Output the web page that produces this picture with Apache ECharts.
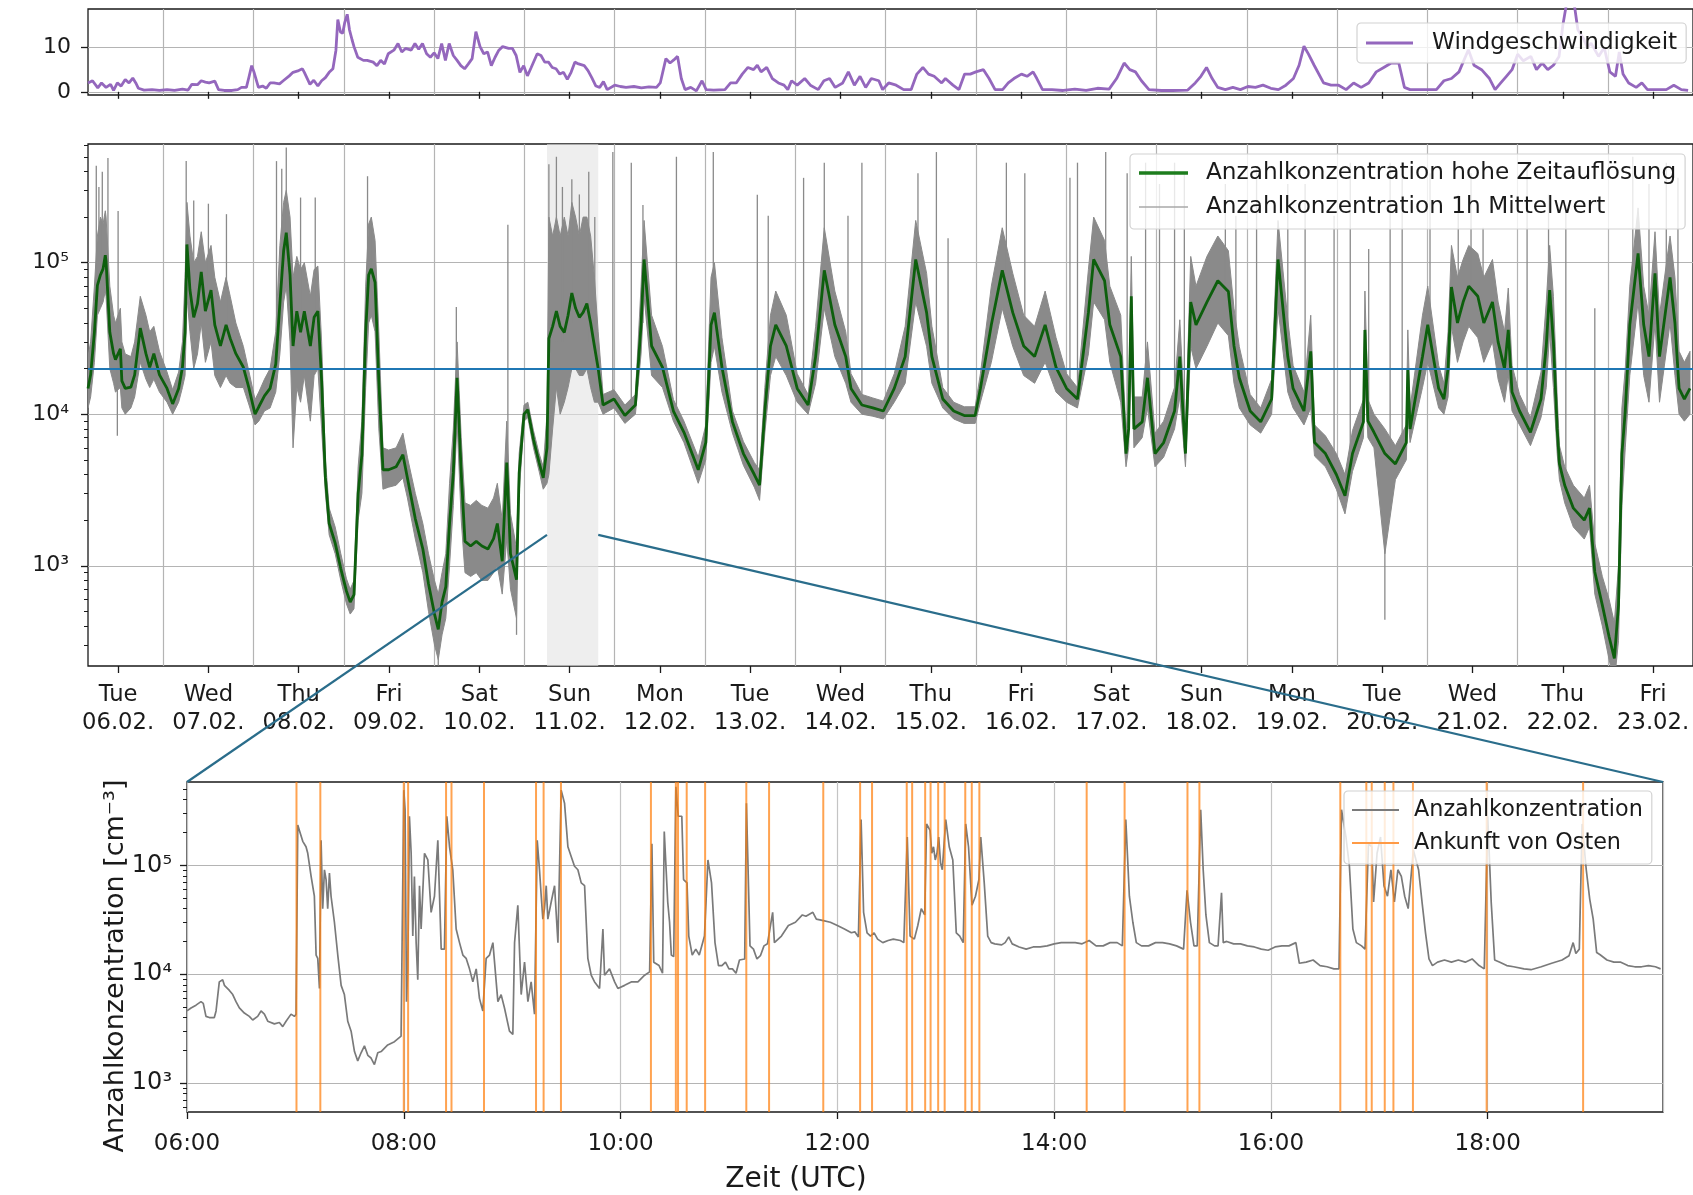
<!DOCTYPE html>
<html>
<head>
<meta charset="utf-8">
<script src="https://cdn.jsdelivr.net/npm/echarts@6/dist/echarts.min.js"></script>
<style>
  html, body { margin: 0; padding: 0; background: #ffffff; }
  #chart { width: 1693px; height: 1195px; }
</style>
</head>
<body>
<div id="chart"></div>
<script>
// ---------------------------------------------------------------------------
// Time base of the two upper panels: hours since Tue 06.02. 00:00 UTC
// ---------------------------------------------------------------------------
const dayNames = ['Tue','Wed','Thu','Fri','Sat','Sun','Mon','Tue','Wed','Thu','Fri','Sat','Sun','Mon','Tue','Wed','Thu','Fri'];
const dayDates = ['06.02.','07.02.','08.02.','09.02.','10.02.','11.02.','12.02.','13.02.','14.02.','15.02.','16.02.','17.02.','18.02.','19.02.','20.02.','21.02.','22.02.','23.02.'];

// Wind speed [m/s]: [hour, value]
const windSpeed = [
  [4,2.0],[5.2,2.5],[6.6,0.9],[7.6,2.0],[8.8,1.0],[10.0,1.7],[10.8,0.3],[11.8,2.0],[12.8,1.3],[13.9,2.8],[14.9,2.0],[15.9,3.1],[16.7,2.0],[17.4,0.8],
  [18.9,0.4],[21.0,0.5],[23.0,0.3],[25.0,0.5],[27.0,0.3],[29.1,0.6],[30.6,0.4],[31.6,1.7],[33.1,1.6],[34.1,2.5],[35.2,2.2],[36.2,2.0],[37.7,2.4],
  [38.7,0.5],[40.2,0.3],[42.3,0.3],[43.8,0.5],[44.8,1.0],[46.1,1.0],[46.8,3.4],[47.5,5.9],[48.1,4.5],[49.3,1.0],[50.4,1.3],[51.4,0.8],[52.4,2.0],
  [53.4,2.0],[54.9,1.8],[55.9,2.5],[57.5,3.6],[58.5,4.4],[60.0,4.8],[61.0,5.2],[61.5,4.4],[63.0,1.7],[64.0,2.6],[65.1,1.3],[66.1,2.5],[67.1,3.2],
  [68.1,4.4],[69.1,5.2],[69.9,9.4],[70.4,16.3],[71.1,13.5],[71.7,13.2],[72.2,15.5],[72.9,17.5],[73.5,14.0],[74.2,11.7],[74.7,10.2],[75.7,7.8],
  [77.2,7.1],[78.2,7.1],[79.8,6.7],[80.8,5.9],[81.8,7.1],[82.8,6.3],[83.8,8.6],[85.3,9.4],[86.4,10.9],[87.4,9.0],[88.4,9.8],[89.9,9.4],[90.9,10.9],
  [91.9,9.6],[92.9,10.9],[94.0,8.6],[95.0,7.8],[96.0,8.8],[97.0,7.5],[98.0,10.9],[99.0,7.1],[100.0,10.9],[101.1,8.2],[102.1,7.1],[103.1,5.9],
  [104.1,5.2],[105.1,6.3],[106.1,7.5],[107.1,13.6],[108.2,10.2],[109.2,8.6],[110.2,9.0],[111.2,5.9],[112.2,7.8],[113.2,9.4],[114.2,10.2],[115.8,9.8],
  [116.8,9.8],[117.8,8.2],[118.8,4.4],[119.8,5.9],[120.8,3.6],[121.8,5.5],[123.4,8.6],[124.4,8.2],[125.4,6.7],[126.4,6.7],[127.4,5.5],[128.4,5.2],
  [129.4,4.0],[130.4,4.4],[131.4,2.8],[132.4,4.4],[133.4,6.7],[134.4,6.3],[135.9,5.9],[136.9,4.8],[137.9,3.2],[139.0,1.3],[140.0,1.0],[141.0,2.3],
  [142.0,0.5],[144.0,1.5],[145.5,1.2],[147.0,1.0],[149.1,1.2],[151.1,0.9],[153.1,1.1],[155.1,1.0],[156.1,2.0],[157.6,7.5],[158.7,6.5],[159.7,7.2],
  [160.7,8.0],[161.7,3.0],[162.7,0.5],[164.2,1.0],[165.7,0.2],[167.2,2.5],[168.3,0.5],[170.3,0.4],[173.3,0.5],[174.8,2.0],[176.3,2.0],[177.9,4.0],
  [179.4,5.5],[180.9,5.0],[181.9,6.0],[182.9,4.5],[184.4,5.5],[185.9,3.0],[187.5,2.0],[189.0,1.5],[190.0,0.5],[191.0,2.5],[192.5,1.5],[194.5,3.0],
  [196.0,1.5],[198.1,0.5],[199.6,2.5],[201.1,3.0],[202.6,1.0],[204.6,2.0],[206.1,4.5],[207.7,1.5],[209.2,3.5],[210.7,1.0],[212.2,3.0],[214.2,2.5],
  [215.2,0.5],[216.8,2.0],[218.8,1.5],[220.8,0.5],[222.8,0.5],[224.3,4.0],[225.9,5.5],[227.4,4.0],[228.9,3.5],[230.9,2.0],[231.9,3.0],[233.9,1.5],
  [235.5,0.5],[237.0,4.0],[238.5,4.0],[240.0,4.5],[242.0,5.0],[243.5,3.0],[245.1,0.5],[247.1,0.5],[248.6,2.0],[250.1,3.0],[252.1,4.0],[253.6,3.5],
  [255.2,4.5],[256.2,3.0],[257.7,0.5],[260.2,0.5],[263.2,0.3],[266.3,0.6],[269.3,0.3],[272.3,0.8],[275.4,0.6],[277.4,3.0],[279.4,6.5],[280.9,5.0],
  [282.4,4.5],[284.0,2.5],[286.0,0.5],[289.3,0.3],[292.3,0.3],[296.3,0.4],[298.3,2.0],[299.8,3.5],[301.3,5.5],[302.8,3.0],[304.3,1.0],[306.3,0.5],
  [308.3,1.0],[310.3,0.5],[312.3,1.2],[314.3,1.0],[316.3,1.5],[318.4,0.8],[320.4,0.5],[322.4,1.5],[324.4,3.0],[325.9,6.0],[327.2,10.3],[328.4,8.5],
  [329.9,6.0],[332.4,2.0],[334.4,1.5],[336.4,1.5],[338.4,0.5],[340.4,2.0],[342.4,1.0],[344.4,2.0],[346.4,4.5],[348.4,5.5],[350.4,6.5],[352.4,6.5],
  [353.9,1.0],[355.4,0.5],[359.4,0.5],[362.4,0.5],[364.4,2.5],[366.4,3.0],[368.4,4.5],[370.9,9.5],[372.4,6.0],[374.4,5.0],[376.5,3.0],[378.0,0.5],
  [379.5,2.0],[381.0,3.5],[382.5,5.0],[384.0,8.5],[385.5,7.0],[387.5,8.0],[389.0,5.0],[390.5,6.5],[392.0,5.0],[393.5,6.0],[395.0,8.0],[396.0,15.0],
  [397.0,20.0],[399.0,20.0],[400.0,14.0],[401.5,12.0],[402.5,10.0],[403.5,11.0],[405.5,8.0],[407.0,10.0],[408.5,4.5],[410.0,3.5],[411.0,9.0],
  [412.0,4.0],[413.5,2.0],[415.5,1.0],[417.0,2.0],[418.5,0.5],[421.5,0.5],[423.5,0.5],[425.5,1.5],[427.5,0.5],[429.3,0.3]
];

// Number concentration, high time resolution [cm^-3]: [hour, value]
const hiResConc = [
  [4.0,14800],[4.7,18200],[5.7,34700],[6.5,70800],[7.3,83000],[8.0,91000],[8.6,112000],[8.8,102000],[9.8,34700],[10.8,25100],[11.3,22900],
  [12.6,27000],[13.0,16600],[13.9,14800],[15.4,15100],[16.4,18200],[17.9,37000],[19.4,25100],[20.4,20400],[21.5,25100],[23.0,18200],[25.0,14800],
  [26.5,11700],[28.1,14800],[29.1,20400],[29.8,34700],[30.3,132000],[31.1,66000],[32.1,43600],[33.1,53700],[34.1,87000],[35.2,47900],[36.7,66000],
  [37.7,38900],[39.2,28200],[40.7,38900],[41.8,31600],[43.3,25100],[45.3,20400],[46.8,14800],[48.4,10000],[49.4,11200],[50.9,13200],[52.4,14800],
  [53.9,21400],[55.0,53700],[56.0,120000],[56.7,158000],[57.7,83000],[58.5,28200],[59.5,47900],[60.5,34700],[61.5,47900],[63.1,28200],[64.1,43600],
  [65.1,47900],[66.1,16600],[67.1,3800],[68.1,1900],[69.7,1410],[71.2,955],[72.7,680],[73.7,575],[74.7,645],[75.8,3000],[76.8,5400],[77.8,34700],
  [78.6,83000],[79.3,91000],[80.3,74000],[81.3,16600],[82.4,4300],[83.9,4300],[85.9,4500],[87.7,5400],[88.9,3800],[91.0,2040],[93.0,1290],
  [94.5,760],[96.1,480],[97.1,380],[98.1,575],[99.1,725],[100.1,1900],[101.1,4100],[102.1,17400],[103.2,4100],[104.2,1450],[105.7,1350],
  [107.2,1450],[108.7,1350],[110.3,1290],[111.8,1510],[112.8,1900],[114.1,1070],[115.3,4800],[116.3,1200],[117.9,810],[118.6,4100],[119.9,10000],
  [120.9,10700],[122.4,6800],[123.9,4800],[125.0,3800],[126.0,6000],[126.5,31600],[127.5,38000],[128.5,47900],[129.5,38000],[130.6,34700],
  [131.6,45000],[132.6,63000],[133.6,50000],[134.6,43600],[135.6,47000],[136.6,53700],[137.6,40000],[138.6,28200],[139.6,20000],[140.9,11500],
  [143.8,12600],[146.7,9800],[149.5,11500],[151.0,38900],[151.8,105000],[153.8,28200],[156.7,20400],[159.6,10500],[162.4,7600],[166.2,4300],
  [168.2,6500],[169.6,38900],[170.5,46800],[172.5,20400],[175.3,8900],[178.2,5500],[181.1,4000],[182.5,3400],[183.9,10500],[185.4,28200],
  [186.8,38900],[189.6,28200],[192.5,14800],[195.4,11500],[197.4,24000],[199.7,89000],[202.5,38900],[205.4,24000],[206.8,14800],[209.7,11500],
  [212.6,11000],[215.4,10500],[218.3,14800],[221.2,24000],[224.0,105000],[226.9,46800],[228.3,24000],[231.2,12600],[234.1,10500],[236.9,9800],
  [239.8,9800],[241.2,14800],[244.1,38900],[247.0,89000],[249.8,46800],[252.7,28200],[255.6,24000],[258.4,38900],[261.3,20400],[264.1,14800],
  [267.0,12600],[269.9,46800],[271.3,105000],[274.2,76000],[275.6,38900],[278.5,24000],[279.9,5500],[280.6,8000],[281.3,60000],[282.0,8000],
  [284.2,8900],[285.6,17400],[287.6,5500],[289.9,6500],[292.8,10500],[294.2,24000],[295.7,5500],[297.1,55000],[298.5,38900],[301.4,55000],
  [304.3,76000],[307.1,64600],[308.6,28200],[310.0,17400],[312.9,10500],[315.7,8900],[318.6,12600],[320.3,105000],[322.9,24000],[324.3,14800],
  [327.2,10500],[329.0,26000],[330.0,6500],[332.9,5500],[335.8,4000],[338.1,2900],[340.1,5500],[343.0,8900],[343.4,36000],[344.2,9000],
  [345.8,7600],[348.7,5500],[351.5,4700],[354.4,6500],[354.8,20000],[355.4,8000],[358.7,24000],[360.1,38900],[363.0,14800],[364.4,12600],
  [365.5,20000],[366.4,69000],[368.0,40000],[369.5,55000],[371.0,70000],[373.4,60000],[375.0,40000],[377.3,55000],[378.8,30000],[380.5,20000],
  [381.5,36000],[382.5,14000],[384.5,10500],[387.4,7600],[390.2,12600],[391.6,28200],[392.5,66000],[393.5,30000],[394.5,8000],[395.1,4700],
  [396.5,3400],[398.8,2400],[401.7,2000],[403.1,2400],[404.5,910],[406.5,550],[408.3,340],[409.7,245],[410.8,550],[411.7,5500],[412.6,10500],
  [413.8,38900],[416.0,115000],[417.5,38900],[418.9,24000],[420.5,85000],[421.7,24000],[424.5,80000],[425.8,40000],[426.9,14800],[428.3,12600],
  [429.8,14800]
];

// Spread of the hourly mean trace [cm^-3]: [hour, low, high]
const hourlyBand = [
  [4.0,11000,24000],[4.7,13000,30000],[5.7,22000,70000],[6.5,45000,150000],[7.3,50000,200000],[8.0,55000,180000],[8.6,65000,220000],
  [8.8,60000,200000],[9.8,20000,70000],[10.8,16000,45000],[11.3,14000,40000],[12.6,15000,50000],[13.0,11000,30000],[13.9,10000,25000],
  [15.4,11000,24000],[16.4,13000,30000],[17.9,22000,60000],[19.4,17000,45000],[20.4,15000,35000],[21.5,17000,38000],[23.0,14000,26000],
  [25.0,12000,19000],[26.5,10000,14500],[28.1,12000,19000],[29.1,15000,30000],[29.8,18000,80000],[30.3,60000,250000],[31.1,35000,150000],
  [32.1,20000,100000],[33.1,25000,110000],[34.1,40000,160000],[35.2,22000,100000],[36.7,30000,130000],[37.7,18000,80000],[39.2,15000,55000],
  [40.7,18000,80000],[41.8,16000,60000],[43.3,15000,40000],[45.3,15000,28000],[46.8,11500,19000],[48.4,8500,12500],[49.4,9000,14000],
  [50.9,10500,17000],[52.4,11000,20000],[53.9,14000,35000],[55.0,25000,130000],[56.0,55000,250000],[56.7,70000,300000],[57.7,30000,200000],
  [58.5,6000,80000],[59.5,15000,110000],[60.5,12000,90000],[61.5,18000,100000],[63.1,9000,60000],[64.1,18000,90000],[65.1,20000,95000],
  [66.1,8000,30000],[67.1,3000,5000],[68.1,1600,2400],[69.7,1200,1800],[71.2,800,1200],[72.7,560,820],[73.7,480,700],[74.7,520,800],
  [75.8,2000,4500],[76.8,3000,9000],[77.8,15000,70000],[78.6,40000,180000],[79.3,45000,200000],[80.3,35000,140000],[81.3,8000,35000],
  [82.4,3200,6000],[83.9,3300,5800],[85.9,3400,6000],[87.7,3800,7500],[88.9,2800,5200],[91.0,1500,3000],[93.0,900,1900],[94.5,500,1200],
  [96.1,300,800],[97.1,240,650],[98.1,350,900],[99.1,450,1200],[100.1,1000,3500],[101.1,2500,8000],[102.1,9000,30000],[103.2,2000,7000],
  [104.2,900,2600],[105.7,850,2500],[107.2,900,2700],[108.7,800,2500],[110.3,800,2400],[111.8,900,2800],[112.8,1000,3500],[114.1,650,2000],
  [115.3,1500,9000],[116.3,700,2200],[117.9,450,1300],[118.6,3000,5500],[119.9,9000,11500],[120.9,9500,12000],[122.4,6000,7800],
  [123.9,4200,5500],[125.0,3200,4500],[126.0,3500,10000],[126.5,4000,200000],[127.5,8000,150000],[128.5,15000,200000],[129.5,10000,150000],
  [130.6,12000,200000],[131.6,15000,150000],[132.6,20000,250000],[133.6,20000,200000],[134.6,18000,150000],[135.6,18000,200000],
  [136.6,20000,200000],[137.6,15000,150000],[138.6,12000,80000],[139.6,12000,35000],[140.9,10000,13500],[143.8,11000,14500],[146.7,8700,11500],
  [149.5,10000,13500],[151.0,25000,70000],[151.8,60000,190000],[153.8,18000,45000],[156.7,15000,28000],[159.6,9000,12500],[162.4,6500,9000],
  [166.2,3500,5200],[168.2,5000,8500],[169.6,22000,80000],[170.5,28000,100000],[172.5,14000,32000],[175.3,7500,10500],[178.2,4600,6600],
  [181.1,3300,4800],[182.5,2700,4300],[183.9,7500,15000],[185.4,18000,45000],[186.8,24000,65000],[189.6,18000,45000],[192.5,12000,18500],
  [195.4,10000,13500],[197.4,16000,38000],[199.7,50000,170000],[202.5,24000,65000],[205.4,16000,35000],[206.8,12000,18500],[209.7,10000,13500],
  [212.6,9700,12800],[215.4,9300,12200],[218.3,12000,18500],[221.2,16000,38000],[224.0,55000,190000],[226.9,28000,85000],[228.3,16000,38000],
  [231.2,11000,15000],[234.1,9300,12000],[236.9,8700,11200],[239.8,8700,11200],[241.2,12000,18500],[244.1,22000,70000],[247.0,50000,170000],
  [249.8,28000,85000],[252.7,18000,45000],[255.6,16000,38000],[258.4,22000,65000],[261.3,14000,32000],[264.1,12000,18500],[267.0,11000,15000],
  [269.9,25000,90000],[271.3,55000,200000],[274.2,42000,140000],[275.6,22000,70000],[278.5,12000,45000],[279.9,4500,7500],[280.6,6000,12000],
  [281.3,25000,110000],[282.0,6000,13000],[284.2,7000,13000],[285.6,11000,30000],[287.6,4500,7500],[289.9,5200,9000],[292.8,8000,15000],
  [294.2,13000,42000],[295.7,4500,7500],[297.1,28000,110000],[298.5,20000,70000],[301.4,28000,110000],[304.3,40000,150000],[307.1,33000,120000],
  [308.6,16000,50000],[310.0,11000,28000],[312.9,8500,13500],[315.7,7500,11000],[318.6,10000,17000],[320.3,50000,190000],[322.9,14000,42000],
  [324.3,11000,21000],[327.2,8500,14000],[329.0,11000,45000],[330.0,5300,8500],[332.9,4500,7200],[335.8,3200,5500],[338.1,2200,4000],
  [340.1,4200,7800],[343.0,7000,12500],[343.4,16000,65000],[344.2,7000,12500],[345.8,6000,10000],[348.7,1200,8000],[351.5,3700,6200],
  [354.4,5000,8500],[354.8,10000,36000],[355.4,6500,11000],[358.7,15000,45000],[360.1,22000,70000],[363.0,11000,21000],[364.4,10000,16000],
  [365.5,13000,35000],[366.4,38000,130000],[368.0,22000,80000],[369.5,30000,105000],[371.0,38000,130000],[373.4,32000,115000],
  [375.0,22000,80000],[377.3,30000,105000],[378.8,17000,55000],[380.5,12000,35000],[381.5,18000,68000],[382.5,10500,21000],[384.5,8500,13500],
  [387.4,6200,9500],[390.2,9500,19000],[391.6,15000,55000],[392.5,35000,130000],[393.5,15000,60000],[394.5,5500,13000],[395.1,3700,6200],
  [396.5,2600,4500],[398.8,1800,3400],[401.7,1500,2800],[403.1,1800,3400],[404.5,650,1400],[406.5,400,850],[408.3,240,600],[409.7,170,420],
  [410.8,320,1000],[411.7,2500,11000],[412.6,6000,20000],[413.8,18000,70000],[416.0,55000,230000],[417.5,18000,70000],[418.9,12000,45000],
  [420.5,40000,160000],[421.7,12000,45000],[424.5,40000,150000],[425.8,18000,80000],[426.9,10000,26000],[428.3,9000,22000],[429.8,10000,26000]
];

// Short excursions of the hourly mean trace [cm^-3]: [hour, from, to]
const hourlyNeedles = [
  [6.2,40000,436000],[6.9,60000,316000],[7.8,80000,398000],[9.3,60000,490000],[11.8,7200,20000],[12.0,20000,219000],[30.1,100000,468000],
  [32.1,40000,257000],[36.0,50000,245000],[40.8,30000,209000],[54.1,30000,468000],[55.5,60000,417000],[56.7,100000,575000],[60.5,30000,269000],
  [64.4,40000,269000],[78.3,50000,372000],[79.3,60000,186000],[97.1,220,400],[101.9,10000,51000],[115.6,2000,178000],[117.9,350,800],
  [126.5,20000,447000],[128.5,30000,500000],[130.1,30000,316000],[132.6,40000,355000],[134.6,30000,282000],[137.1,30000,398000],
  [138.7,20000,200000],[143.5,12000,537000],[148.4,10000,457000],[151.5,40000,240000],[160.4,10000,500000],[170.2,40000,537000],
  [181.9,4000,281000],[184.8,15000,204000],[194.2,12000,363000],[199.7,80000,457000],[206.0,15000,204000],[209.7,11000,457000],
  [224.6,80000,389000],[229.5,20000,537000],[232.6,12000,145000],[248.1,60000,457000],[253.0,25000,389000],[265.0,14000,363000],
  [267.0,12000,457000],[274.5,70000,537000],[280.2,6000,389000],[285.1,12000,457000],[288.8,6000,331000],[292.8,10000,457000],
  [295.4,6000,389000],[306.3,60000,331000],[309.1,20000,204000],[314.6,9000,427000],[322.9,24000,331000],[327.5,10000,331000],
  [335.2,4000,204000],[339.5,4000,457000],[344.4,9000,123000],[348.7,440,5000],[350.1,5000,457000],[353.3,6000,363000],[360.7,35000,389000],
  [368.2,40000,281000],[371.6,60000,389000],[374.8,40000,170000],[386.5,8000,457000],[392.2,60000,281000],[396.8,3400,240000],
  [404.5,900,50000],[414.6,60000,500000],[418.9,24000,331000],[423.5,60000,457000],[426.6,14000,363000]
];

const thresholdConc = 20000;

// Detail window: Sun 11.02., 06:00 - 19:37 UTC
const windowDay = 5;
const windowFromHour = 6;
const windowToHour = 19.617;
const connectorConc = 1600;

// Detail panel: [hour of day, concentration cm^-3]
const detailConc = [
  [6.000,4600],[6.037,4900],[6.083,5200],[6.129,5600],[6.150,5400],[6.175,4100],[6.206,4000],[6.252,4000],[6.268,4600],[6.298,8500],
  [6.329,8900],[6.345,7900],[6.391,7100],[6.422,6500],[6.452,5600],[6.483,4900],[6.529,4400],[6.575,4100],[6.606,3800],[6.652,4100],
  [6.683,4600],[6.714,4300],[6.745,3700],[6.806,3500],[6.852,3600],[6.883,3300],[6.914,3700],[6.960,4300],[6.991,4100],[7.006,4300],
  [7.022,234000],[7.037,209000],[7.068,166000],[7.098,148000],[7.114,129000],[7.145,79000],[7.175,52000],[7.191,15000],[7.206,14000],
  [7.222,7400],[7.237,170000],[7.252,40000],[7.268,91000],[7.283,74000],[7.298,40000],[7.314,85000],[7.329,52000],[7.360,30000],
  [7.391,15000],[7.422,7900],[7.452,6500],[7.483,3700],[7.514,3000],[7.545,1950],[7.575,1600],[7.606,1900],[7.637,2200],[7.668,1800],
  [7.698,1700],[7.729,1480],[7.760,1900],[7.791,1950],[7.852,2240],[7.914,2400],[7.975,2700],[8.000,490000],[8.012,324000],[8.025,5600],
  [8.037,11200],[8.052,282000],[8.068,129000],[8.083,22400],[8.098,79000],[8.114,19500],[8.129,8900],[8.145,65000],[8.160,26000],
  [8.191,129000],[8.222,112000],[8.252,37000],[8.283,52000],[8.314,170000],[8.345,17000],[8.375,17000],[8.397,282000],[8.422,148000],
  [8.452,91000],[8.483,26000],[8.514,19500],[8.545,15000],[8.575,14000],[8.606,11200],[8.637,8500],[8.668,11200],[8.698,6000],[8.729,4600],
  [8.760,14000],[8.791,15000],[8.822,19500],[8.868,5600],[8.898,6500],[8.929,4900],[8.975,3000],[9.006,2800],[9.022,19500],[9.052,43000],
  [9.083,6500],[9.114,12900],[9.145,5600],[9.175,8500],[9.206,4300],[9.231,170000],[9.252,91000],[9.268,52000],[9.283,32000],[9.298,40000],
  [9.314,65000],[9.329,32000],[9.360,46000],[9.391,65000],[9.422,19500],[9.452,490000],[9.483,372000],[9.514,148000],[9.545,120000],
  [9.575,98000],[9.606,91000],[9.637,69000],[9.668,65000],[9.698,14000],[9.729,9800],[9.760,8500],[9.806,7400],[9.837,26000],[9.852,9800],
  [9.898,11200],[9.945,8500],[9.975,7400],[10.037,7900],[10.098,8500],[10.160,8500],[10.222,9800],[10.268,10500],[10.289,158000],
  [10.306,12900],[10.355,12000],[10.387,10200],[10.403,204000],[10.435,46000],[10.452,30000],[10.468,15000],[10.490,14500],[10.510,525000],
  [10.532,282000],[10.565,282000],[10.581,74000],[10.613,69000],[10.629,22400],[10.661,15000],[10.694,17000],[10.726,15000],[10.774,22400],
  [10.806,112000],[10.839,69000],[10.871,19500],[10.903,12000],[10.935,12000],[10.968,12900],[11.000,11200],[11.032,11200],[11.065,10200],
  [11.097,13500],[11.145,13800],[11.161,372000],[11.194,18200],[11.226,17000],[11.258,13800],[11.290,14800],[11.323,18200],[11.355,19000],
  [11.403,37000],[11.419,19500],[11.484,22400],[11.548,28000],[11.613,30000],[11.677,35000],[11.710,34000],[11.774,37000],[11.806,32000],
  [11.871,31000],[11.935,30000],[12.000,28000],[12.065,26000],[12.129,24000],[12.161,24500],[12.194,22000],[12.219,263000],[12.242,37000],
  [12.274,24000],[12.306,22400],[12.339,24000],[12.371,21000],[12.419,19500],[12.468,20400],[12.516,21000],[12.581,20400],[12.613,19500],
  [12.645,182000],[12.671,22400],[12.710,21000],[12.742,28000],[12.774,40000],[12.806,35000],[12.823,240000],[12.855,209000],[12.871,129000],
  [12.887,148000],[12.903,112000],[12.919,129000],[12.935,182000],[12.952,105000],[12.968,91000],[13.000,263000],[13.032,148000],
  [13.065,112000],[13.097,24000],[13.129,22400],[13.161,19500],[13.184,240000],[13.210,148000],[13.242,43000],[13.274,52000],[13.306,74000],
  [13.323,182000],[13.355,69000],[13.387,22400],[13.419,19500],[13.452,19000],[13.516,18600],[13.548,19500],[13.581,22000],[13.613,19000],
  [13.677,17800],[13.742,17000],[13.806,17800],[13.871,17800],[13.935,18200],[14.000,19000],[14.065,19500],[14.129,19500],[14.194,19500],
  [14.258,19000],[14.323,20400],[14.387,18200],[14.452,18200],[14.516,19500],[14.581,19500],[14.629,18200],[14.661,263000],[14.694,52000],
  [14.726,30000],[14.758,19500],[14.806,18200],[14.871,18200],[14.935,19500],[15.000,19500],[15.065,19000],[15.129,18200],[15.194,17000],
  [15.226,59000],[15.258,30000],[15.290,18200],[15.320,18200],[15.352,324000],[15.375,91000],[15.400,35000],[15.432,19500],[15.480,18200],
  [15.512,18200],[15.544,56000],[15.560,19500],[15.592,20000],[15.656,19000],[15.719,19000],[15.783,18200],[15.847,17800],[15.911,17000],
  [15.974,16600],[16.038,17800],[16.102,18200],[16.166,18200],[16.230,19500],[16.262,12600],[16.325,12900],[16.389,13500],[16.453,12000],
  [16.517,11700],[16.581,11200],[16.628,11200],[16.651,324000],[16.692,182000],[16.724,98000],[16.756,26000],[16.788,19500],[16.836,18200],
  [16.868,17000],[16.900,158000],[16.931,148000],[16.947,46000],[16.979,129000],[17.011,182000],[17.043,65000],[17.075,52000],[17.107,91000],
  [17.139,46000],[17.171,91000],[17.203,79000],[17.234,52000],[17.266,40000],[17.314,138000],[17.362,91000],[17.394,46000],[17.426,24000],
  [17.458,13800],[17.490,12000],[17.537,12900],[17.601,13500],[17.665,12900],[17.729,13500],[17.793,12900],[17.856,13800],[17.920,12000],
  [17.968,11200],[18.000,282000],[18.032,46000],[18.064,13500],[18.112,12900],[18.175,12000],[18.239,11700],[18.335,11200],[18.399,11000],
  [18.494,11700],[18.590,12600],[18.686,13500],[18.750,14800],[18.788,19500],[18.813,15500],[18.845,17000],[18.871,240000],[18.909,91000],
  [18.941,49000],[18.973,32000],[19.005,15800],[19.037,15100],[19.100,13500],[19.164,12900],[19.228,12900],[19.292,12000],[19.356,11700],
  [19.419,11700],[19.483,12000],[19.547,11700],[19.595,11200]
];

// Arrivals from the east (hour of day)
const eastArrivals = [
  7.01,7.23,8.00,8.04,8.39,8.44,8.74,9.22,9.29,9.45,10.28,10.51,10.53,10.61,10.78,11.16,11.37,11.87,12.21,12.32,12.64,12.69,12.81,
  12.86,12.93,12.99,13.18,13.24,13.31,14.30,14.65,15.23,15.34,16.64,16.88,16.93,17.05,17.13,17.31,17.99,18.88
];

// Axis ranges
const X_MIN = 4, X_MAX = 430.6;
const WIND_MIN = -0.72, WIND_MAX = 18.7;
const CONC_MIN = 218, CONC_MAX = 607000;
const DETAIL_MIN = 543, DETAIL_MAX = 582000;
const windTicks = [0, 10];
const decadeTicks = [1000, 10000, 100000];
const detailTitle = 'Anzahlkonzentration [cm⁻³]';

// ---------------------------------------------------------------------------
const FONT = 'DejaVu Sans';
const INK = '#1a1a1a';
const GRIDLINE = '#b4b4b4';

const noonHours = dayNames.map((_, i) => 12 + 24 * i);
const midnightHours = [];
for (let h = 24; h < X_MAX; h += 24) midnightHours.push(h);

function minorDecadeTicks(lo, hi) {
  const out = [];
  for (let p = 100; p <= 1e6; p *= 10) {
    for (let k = 2; k <= 9; k++) {
      const v = k * p;
      if (v >= lo && v <= hi) out.push(v);
    }
  }
  return out;
}

const SUP = { '0': '⁰', '1': '¹', '2': '²', '3': '³', '4': '⁴', '5': '⁵', '6': '⁶', '7': '⁷', '8': '⁸', '9': '⁹', '-': '⁻' };
function powerLabel(v) {
  const e = Math.round(Math.log10(v));
  return '10' + String(e).split('').map(c => SUP[c]).join('');
}
function dayLabel(v) {
  const i = Math.round((v - 12) / 24);
  return (dayNames[i] || '') + '\n' + (dayDates[i] || '');
}
function clockLabel(v) {
  return String(Math.round(v)).padStart(2, '0') + ':00';
}

const tickLine = { color: INK, width: 1.3 };
const labelText = { fontFamily: FONT, fontSize: 22, color: INK };

function timeAxisPair(gridIndex, withLabels) {
  return [
    {
      gridIndex, type: 'value', min: X_MIN, max: X_MAX, position: 'bottom',
      axisLine: { show: false },
      axisTick: { show: true, customValues: noonHours, length: 7, lineStyle: tickLine },
      axisLabel: withLabels
        ? Object.assign({ show: true, customValues: noonHours, formatter: dayLabel, margin: 15, lineHeight: 28 }, labelText, { fontSize: 22.7 })
        : { show: false },
      splitLine: { show: false }
    },
    {
      gridIndex, type: 'value', min: X_MIN, max: X_MAX, position: 'bottom',
      axisLine: { show: false },
      axisTick: { show: false, customValues: midnightHours },
      axisLabel: { show: false },
      splitLine: { show: true, lineStyle: { color: GRIDLINE, width: 1.2 } }
    }
  ];
}

function logAxisPair(gridIndex, lo, hi, margin, fontSize) {
  return [
    {
      gridIndex, type: 'log', logBase: 10, min: lo, max: hi, position: 'left',
      axisLine: { show: false },
      axisTick: { show: true, customValues: decadeTicks, length: 7, lineStyle: tickLine },
      axisLabel: Object.assign({ customValues: decadeTicks, formatter: powerLabel, margin }, labelText, { fontSize }),
      splitLine: { show: true, lineStyle: { color: GRIDLINE, width: 1.2 } }
    },
    {
      gridIndex, type: 'log', logBase: 10, min: lo, max: hi, position: 'left',
      axisLine: { show: false },
      axisTick: { show: true, customValues: minorDecadeTicks(lo, hi), length: 4, lineStyle: { color: INK, width: 1 } },
      axisLabel: { show: false },
      splitLine: { show: false }
    }
  ];
}

const lineIcon = w => 'path://M0,0 L48,0 L48,' + w + ' L0,' + w + ' Z';
const legendBox = {
  backgroundColor: 'rgba(255,255,255,0.8)', borderColor: '#d2d2d2', borderWidth: 1.2, borderRadius: 4,
  itemWidth: 48, itemHeight: 14, selectedMode: false
};

function renderBand(params, api) {
  if (params.dataIndex !== 0) return null;
  const upper = [], lower = [];
  hourlyBand.forEach(r => {
    upper.push(api.coord([r[0], r[2]]));
    lower.push(api.coord([r[0], r[1]]));
  });
  return {
    type: 'polygon',
    shape: { points: upper.concat(lower.reverse()) },
    style: { fill: '#8a8a8a', stroke: '#8a8a8a', lineWidth: 1 }
  };
}
function renderNeedle(params, api) {
  const a = api.coord([api.value(0), api.value(1)]);
  const b = api.coord([api.value(0), api.value(2)]);
  return { type: 'line', shape: { x1: a[0], y1: a[1], x2: b[0], y2: b[1] }, style: { stroke: '#8a8a8a', lineWidth: 1.3 } };
}
function renderArrival(params, api) {
  const x = api.coord([api.value(0), DETAIL_MIN])[0];
  const cs = params.coordSys;
  return { type: 'line', shape: { x1: x, y1: cs.y, x2: x, y2: cs.y + cs.height }, style: { stroke: 'rgba(255,127,14,0.72)', lineWidth: 2 } };
}

const windowStart = windowDay * 24 + windowFromHour;
const windowEnd = windowDay * 24 + windowToHour;

const GREEN = '#0d5f0d';
const NAME_HI = 'Anzahlkonzentration hohe Zeitauflösung';
const NAME_MEAN = 'Anzahlkonzentration 1h Mittelwert';

const option = {
  animation: false,
  backgroundColor: '#ffffff',
  textStyle: { fontFamily: FONT },
  grid: [
    { left: 88, top: 9, right: -3, height: 86, show: true, borderColor: INK, borderWidth: 1.3 },
    { left: 88, top: 144, right: -3, height: 522, show: true, borderColor: INK, borderWidth: 1.3 },
    { left: 187, top: 782, width: 1476, height: 333, show: true, borderColor: INK, borderWidth: 1.3 }
  ],
  xAxis: [].concat(
    timeAxisPair(0, false),
    timeAxisPair(1, true),
    [{
      gridIndex: 2, type: 'value', min: windowFromHour, max: windowToHour, interval: 2, position: 'bottom',
      axisLine: { show: false },
      axisTick: { show: true, length: 7, lineStyle: tickLine },
      axisLabel: Object.assign({ formatter: clockLabel, margin: 21, showMaxLabel: false }, labelText, { fontSize: 23 }),
      splitLine: { show: true, lineStyle: { color: '#c4c4c4', width: 1.2 } },
      name: 'Zeit (UTC)', nameLocation: 'middle', nameGap: 54,
      nameTextStyle: { fontFamily: FONT, fontSize: 28, color: INK, padding: [0, 258, 0, 0] }
    }]
  ),
  yAxis: [].concat(
    [{
      gridIndex: 0, type: 'value', min: WIND_MIN, max: WIND_MAX, position: 'left',
      axisLine: { show: false },
      axisTick: { show: true, customValues: windTicks, length: 7, lineStyle: tickLine },
      axisLabel: Object.assign({ customValues: windTicks, margin: 17 }, labelText),
      splitLine: { show: true, lineStyle: { color: GRIDLINE, width: 1.2 } }
    }],
    logAxisPair(1, CONC_MIN, CONC_MAX, 19, 22),
    logAxisPair(2, DETAIL_MIN, DETAIL_MAX, 15, 24)
  ),
  legend: [
    Object.assign({}, legendBox, {
      left: 1357, top: 23, padding: [7, 9, 7, 9], itemWidth: 47,
      data: [{ name: 'Windgeschwindigkeit', icon: lineIcon(3), itemStyle: { color: '#9467bd' } }],
      textStyle: Object.assign({ lineHeight: 26, padding: [0, 0, 0, 14] }, labelText, { fontSize: 23.2 })
    }),
    Object.assign({}, legendBox, {
      left: 1130, top: 154, orient: 'vertical', padding: [6, 9, 9, 9], itemGap: 8, itemWidth: 49,
      data: [
        { name: NAME_HI, icon: lineIcon(3.2), itemStyle: { color: '#1d7d1d' } },
        { name: NAME_MEAN, icon: lineIcon(1.6), itemStyle: { color: '#a8a8a8' } }
      ],
      textStyle: Object.assign({ lineHeight: 26, padding: [0, 0, 0, 13] }, labelText, { fontSize: 23.2 })
    }),
    Object.assign({}, legendBox, {
      left: 1344, top: 791, orient: 'vertical', padding: [6, 9, 8, 8], itemGap: 7, itemWidth: 47,
      data: [
        { name: 'Anzahlkonzentration', icon: lineIcon(1.8), itemStyle: { color: '#7a7a7a' } },
        { name: 'Ankunft von Osten', icon: lineIcon(1.8), itemStyle: { color: '#ff9a45' } }
      ],
      textStyle: Object.assign({ lineHeight: 26, padding: [0, 0, 0, 10] }, labelText, { fontSize: 22.3 })
    })
  ],
  series: [
    {
      name: 'Windgeschwindigkeit', type: 'line', xAxisIndex: 0, yAxisIndex: 0,
      data: windSpeed, showSymbol: false, symbol: 'none',
      itemStyle: { color: '#9467bd' }, lineStyle: { color: '#9467bd', width: 2.8 }, z: 3
    },
    {
      name: NAME_MEAN, type: 'custom', xAxisIndex: 2, yAxisIndex: 1, clip: true,
      data: hourlyBand, renderItem: renderBand, itemStyle: { color: '#a8a8a8' }, z: 2, silent: true
    },
    {
      name: NAME_MEAN, type: 'custom', xAxisIndex: 2, yAxisIndex: 1, clip: true,
      data: hourlyNeedles, renderItem: renderNeedle, itemStyle: { color: '#a8a8a8' }, z: 2, silent: true
    },
    {
      name: NAME_HI, type: 'line', xAxisIndex: 2, yAxisIndex: 1,
      data: hiResConc, showSymbol: false, symbol: 'none',
      itemStyle: { color: GREEN }, lineStyle: { color: GREEN, width: 2.8 }, z: 3,
      markLine: {
        silent: true, symbol: ['none', 'none'], label: { show: false },
        lineStyle: { color: '#1f77b4', width: 2.2, type: 'solid' },
        data: [{ yAxis: thresholdConc }]
      }
    },
    {
      type: 'line', xAxisIndex: 2, yAxisIndex: 1, data: [], z: 10, silent: true,
      markArea: {
        silent: true,
        itemStyle: { color: 'rgba(228,228,228,0.62)' },
        data: [[{ xAxis: windowStart }, { xAxis: windowEnd }]]
      }
    },
    {
      name: 'Anzahlkonzentration', type: 'line', xAxisIndex: 4, yAxisIndex: 3,
      data: detailConc, showSymbol: false, symbol: 'none',
      itemStyle: { color: '#7a7a7a' }, lineStyle: { color: '#7a7a7a', width: 1.7 }, z: 2
    },
    {
      name: 'Ankunft von Osten', type: 'custom', xAxisIndex: 4, yAxisIndex: 3,
      data: eastArrivals.map(t => [t]), encode: { x: 0 }, renderItem: renderArrival,
      itemStyle: { color: '#ff9a45' }, z: 3, silent: true
    }
  ]
};

const chart = echarts.init(document.getElementById('chart'), null, { renderer: 'canvas' });
chart.setOption(option);

// Connector lines from the shaded window to the detail panel corners
const mainFinder = { xAxisIndex: 2, yAxisIndex: 1 };
const detailFinder = { xAxisIndex: 4, yAxisIndex: 3 };
const a1 = chart.convertToPixel(mainFinder, [windowStart, connectorConc]);
const a2 = chart.convertToPixel(mainFinder, [windowEnd, connectorConc]);
const b1 = chart.convertToPixel(detailFinder, [windowFromHour, DETAIL_MAX]);
const b2 = chart.convertToPixel(detailFinder, [windowToHour, DETAIL_MAX]);
const connector = { stroke: '#2a6d8b', lineWidth: 2.2 };
chart.setOption({
  graphic: [
    { type: 'line', z: 100, silent: true, shape: { x1: a1[0], y1: a1[1], x2: b1[0], y2: b1[1] }, style: connector },
    { type: 'line', z: 100, silent: true, shape: { x1: a2[0], y1: a2[1], x2: b2[0], y2: b2[1] }, style: connector },
    // rotated title of the detail panel's concentration axis
    {
      type: 'text', z: 100, silent: true, x: 116, y: 966, rotation: Math.PI / 2,
      style: { text: detailTitle, fill: INK, font: '27px "DejaVu Sans"', align: 'center', verticalAlign: 'middle' }
    }
  ]
});
</script>
</body>
</html>
